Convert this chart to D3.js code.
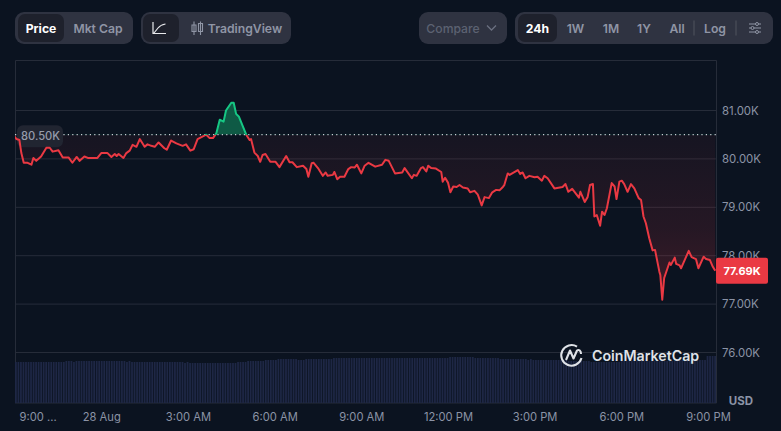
<!DOCTYPE html>
<html><head><meta charset="utf-8">
<script src="https://cdn.jsdelivr.net/npm/d3@7"></script>
<style>html,body{margin:0;padding:0;background:#0b1320;overflow:hidden}svg{display:block;font-family:Inter,"Noto Sans",sans-serif}</style>
</head><body><svg id="c" width="781" height="431"></svg>
<script>
const minutes=[0,4,10,14,19,27,35,39,45,55,66,73,79,91,100,112,120,129,135,145,152,172,180,193,201,208,212,216,226,232,239,245,253,260,270,276,284,291,299,311,316,325,336,349,356,365,372,380,398,405,412,419,426,434,439,450,455,460,466,481,488,491,498,505,510,515,521,531,542,550,564,571,577,586,599,606,610,617,621,630,640,646,650,661,664,670,676,685,693,699,706,711,720,727,735,749,763,770,777,790,805,810,825,829,835,844,848,855,859,865,875,886,889,894,900,905,911,918,924,931,941,946,955,962,970,976,985,992,1000,1007,1014,1017,1024,1028,1045,1050,1055,1061,1069,1080,1086,1095,1100,1107,1121,1138,1144,1150,1158,1172,1175,1184,1190,1195,1201,1204,1209,1216,1220,1225,1230,1240,1246,1250,1256,1261,1266,1273,1280,1287,1296,1301,1306,1311,1318,1325,1330,1339,1341,1345,1349,1360,1363,1371,1374,1381,1384,1400,1406,1415,1420,1431,1436,1444,1450,1455];
const prices=[80.46,80.41,80.39,80.12,79.92,79.92,79.88,80.02,79.96,80.05,80.23,80.23,80.15,80.18,80.03,80.03,79.92,80.04,79.96,80.05,80.02,80.02,80.12,80.12,80.04,80.10,80.06,80.10,80.02,80.12,80.17,80.29,80.25,80.41,80.25,80.30,80.27,80.25,80.34,80.22,80.19,80.38,80.32,80.27,80.30,80.17,80.20,80.41,80.50,80.43,80.43,80.53,80.81,80.77,81.00,81.16,81.16,80.93,80.87,80.50,80.39,80.41,80.13,80.06,79.94,80.08,80.10,79.94,79.94,79.83,80.06,79.93,79.93,79.83,79.86,79.79,79.63,79.91,79.92,79.81,79.65,79.72,79.65,79.67,79.73,79.58,79.63,79.63,79.79,79.83,79.82,79.88,79.70,79.86,79.92,79.84,79.88,79.98,79.96,79.70,79.72,79.81,79.60,79.67,79.65,79.81,79.83,79.74,79.86,79.81,79.80,79.73,79.53,79.61,79.51,79.31,79.43,79.42,79.46,79.41,79.39,79.31,79.34,79.26,79.04,79.21,79.19,79.31,79.36,79.35,79.42,79.46,79.70,79.67,79.77,79.69,79.72,79.60,79.65,79.62,79.63,79.55,79.65,79.60,79.39,79.42,79.48,79.32,79.38,79.20,79.32,79.11,79.21,79.46,79.48,78.81,78.84,78.62,78.91,78.84,78.98,79.50,79.43,79.17,79.53,79.55,79.48,79.32,79.48,79.39,79.19,79.15,78.81,78.67,78.36,78.11,78.12,77.67,77.60,77.09,77.54,77.86,77.81,77.96,77.83,77.80,77.74,78.10,77.97,77.93,77.74,77.98,77.93,77.91,77.77,77.69];
const volumes=[41,41,41,41,41,41,41,41,41,41,41,41,41,41,41,41,41,41,41,41,42,42,42,41,42,42,42,42,42,42,42,42,42,42,42,42,42,42,42,42,42,42,42,42,41,42,41,41,41,41,41,41,41,41,41,41,41,41,41,41,41,41,41,41,41,41,41,40,41,40,40,40,40,40,40,40,40,40,40,40,40,40,40,40,40,40,40,40,41,41,41,41,42,42,42,42,42,42,42,43,43,43,43,43,44,44,44,44,44,44,44,44,43,43,43,44,44,44,44,44,44,44,44,44,44,44,45,45,45,45,45,45,45,45,45,45,45,45,45,45,45,45,45,45,45,45,45,45,45,45,45,45,45,45,45,45,45,45,45,45,45,45,45,45,45,45,45,45,45,45,45,45,46,46,46,46,46,46,46,46,46,46,45,45,45,45,45,45,45,45,45,45,44,44,44,44,44,44,44,44,44,44,44,43,44,43,43,43,43,43,43,43,43,43,43,43,43,43,43,42,42,42,42,42,42,42,42,42,41,41,41,41,41,41,41,41,41,41,41,41,42,42,42,42,42,42,42,42,42,42,42,42,42,42,42,42,42,42,42,42,42,42,43,43,43,43,43,43,43,43,43,43,43,43,47,47,47,47];
const priceTicks=[81,80,79,78,77,76];
const timeTicks=[0,180,360,540,720,900,1080,1260,1440];
const timeLabels=["9:00 ...","28 Aug","3:00 AM","6:00 AM","9:00 AM","12:00 PM","3:00 PM","6:00 PM","9:00 PM"];
const basePrice=80.5, lastPrice=77.69;

const svg=d3.select("#c");
const L=15,R=716,T=60,B=403;
const x=d3.scaleLinear().domain([0,1440]).range([14.6,708]);
const y=d3.scaleLinear().domain([76,81]).range([352.5,110.5]);
const vy=d3.scaleLinear().domain([0,50]).range([B,B-50]);
const vx=d3.scaleBand().domain(d3.range(volumes.length)).range([L,R]).paddingInner(0.3);
const pts=minutes.map((m,i)=>[m,prices[i]]);

const defs=svg.append("defs");
const g=defs.append("linearGradient").attr("id","red").attr("gradientUnits","userSpaceOnUse")
 .attr("x1",0).attr("x2",0).attr("y1",y(basePrice)).attr("y2",y(77.2));
g.append("stop").attr("offset",0).attr("stop-color","#ea3943").attr("stop-opacity",.05);
g.append("stop").attr("offset",.6).attr("stop-color","#ea3943").attr("stop-opacity",.12);
g.append("stop").attr("offset",1).attr("stop-color","#ea3943").attr("stop-opacity",.22);
defs.append("clipPath").attr("id","above").append("rect").attr("x",L).attr("width",R-L).attr("y",T).attr("height",y(basePrice)-T);
defs.append("clipPath").attr("id","below").append("rect").attr("x",L).attr("width",R-L).attr("y",y(basePrice)).attr("height",B-y(basePrice));

// frame and grid
const gridC="#262c39";
svg.append("g").attr("class","grid").selectAll("line").data(priceTicks).join("line")
 .attr("x1",L).attr("x2",R).attr("y1",d=>y(d)).attr("y2",d=>y(d)).attr("stroke",gridC);
svg.append("path").attr("d",`M${L+.5},${B}V${T+.5}H${R+.5}V${B}H${L}`).attr("fill","none").attr("stroke",gridC);

// volume
svg.append("g").selectAll("rect").data(volumes).join("rect")
 .attr("x",(d,i)=>vx(i)).attr("width",vx.bandwidth()).attr("y",d=>vy(d)).attr("height",d=>B-vy(d)).attr("fill","#1e2745");

// areas
const area=d3.area().x(d=>x(d[0])).y1(d=>y(d[1])).y0(y(basePrice));
const line=d3.line().x(d=>x(d[0])).y(d=>y(d[1]));
svg.append("path").attr("d",area(pts)).attr("fill","url(#red)").attr("clip-path","url(#below)");
svg.append("path").attr("d",area(pts)).attr("fill","#0f5a45").attr("clip-path","url(#above)");
svg.append("line").attr("x1",L).attr("x2",R).attr("y1",y(basePrice)).attr("y2",y(basePrice))
 .attr("stroke","#c9ccd3").attr("stroke-dasharray","1.2 3.2").attr("stroke-width",1.2);

// baseline tag sits under the line
svg.append("rect").attr("x",17).attr("y",y(basePrice)-9.5).attr("width",46).attr("height",22).attr("rx",6).attr("fill","#212531");
svg.append("text").attr("x",40.5).attr("y",y(basePrice)+5.5).attr("text-anchor","middle").attr("fill","#969cab").attr("font-size",11.2).attr("font-weight",500).text(d3.format(".2f")(basePrice)+"K");

svg.append("path").attr("d",line(pts)).attr("fill","none").attr("stroke","#ea3943").attr("stroke-width",2).attr("stroke-linejoin","round").attr("clip-path","url(#below)");
svg.append("path").attr("d",line(pts)).attr("fill","none").attr("stroke","#16c784").attr("stroke-width",2).attr("stroke-linejoin","round").attr("clip-path","url(#above)");

// axes
const axisC="#8b93a6";
const ay=svg.append("g").attr("transform",`translate(${R},0)`)
 .call(d3.axisRight(y).tickValues(priceTicks).tickFormat(d=>d3.format(".2f")(d)+"K").tickSize(0).tickPadding(6));
ay.select(".domain").remove();
ay.selectAll("text").attr("fill",axisC).style("font-size","11.4px").style("font-family","Inter");
const ax=svg.append("g").attr("transform",`translate(0,${B})`)
 .call(d3.axisBottom(x).tickValues(timeTicks).tickFormat((d,i)=>timeLabels[i]).tickSize(0).tickPadding(10));
ax.select(".domain").remove();
ax.selectAll("text").attr("fill",axisC).style("font-size","11.2px").style("font-family","Inter");
ax.selectAll("text").filter((d,i)=>i===0).attr("text-anchor","start").attr("x",4.5);
svg.append("text").attr("x",741).attr("y",405).attr("text-anchor","middle").attr("fill",axisC).attr("font-size",11.5).attr("font-weight",700).text("USD");

// last price tag
svg.append("rect").attr("x",716).attr("y",y(lastPrice)-13).attr("width",52).attr("height",26).attr("rx",2).attr("fill","#ea3943");
svg.append("text").attr("x",742).attr("y",y(lastPrice)+4.5).attr("text-anchor","middle").attr("fill","#fff").attr("font-size",11).attr("font-weight",700).text(d3.format(".2f")(lastPrice)+"K");

// watermark
const wm=svg.append("g");
wm.append("path").attr("d","M581.5,358A10.3,10.3 0 1 1 577,346.6").attr("fill","none").attr("stroke","#dfe2e7").attr("stroke-width",2);
wm.append("path").attr("d","M566,360L570,350.5L573.5,358.5L577,350.5C579,349 581,351 581,354").attr("fill","none").attr("stroke","#dfe2e7").attr("stroke-width",2.1).attr("stroke-linejoin","round");
wm.append("text").attr("x",592).attr("y",360.5).attr("fill","#dfe2e7").attr("font-size",14.2).attr("font-weight",600).attr("font-family","Inter").text("CoinMarketCap");

// toolbar
const panel="#2f3341",active="#1e212c";
function box(px,py,w,h,r,f){return svg.append("rect").attr("x",px).attr("y",py).attr("width",w).attr("height",h).attr("rx",r).attr("fill",f);}
function label(t,cx,col,wt){return svg.append("text").attr("x",cx).attr("y",32.5).attr("text-anchor","middle").attr("fill",col).attr("font-size",12.2).attr("font-weight",wt||600).text(t);}
const dim="#8f95a5";
box(15,12,118,32,9,panel);box(18,14,46,28,7,active);label("Price",41,"#fff",700);label("Mkt Cap",98,dim);
box(141,12,150,32,9,panel);box(143,14,36,28,7,active);label("TradingView",245,dim);
svg.append("path").attr("d","M153,22V33.5H166M154,33L158,28C160,25.5 162,24.5 165.5,24").attr("fill","none").attr("stroke","#e8e9ec").attr("stroke-width",1.2);
svg.append("path").attr("d","M194,21.5V35M192,25h4v6.5h-4zM200.5,21.5V35M198.5,23.5h4v8h-4z").attr("fill","none").attr("stroke",dim).attr("stroke-width",1.1);
box(419,12,88,32,9,panel);label("Compare",453,"#5c6272",500);
svg.append("path").attr("d","M487,25.5L491.5,30L496,25.5").attr("fill","none").attr("stroke","#6b7080").attr("stroke-width",1.3);
box(515,12,258,32,9,panel);box(518,14,39,28,7,active);
label("24h",537.5,"#fff",700);label("1W",575.5,dim);label("1M",611,dim);label("1Y",644,dim);label("All",677,dim);label("Log",715,dim);
svg.append("path").attr("d","M694,20.5V35.5M736,20.5V35.5").attr("stroke","#50545f").attr("stroke-width",1);
svg.append("path").attr("d","M749,24h12M749,28h12M749,32h12").attr("stroke",dim).attr("stroke-width",1.1);
[[757,24],[752.5,28],[757,32]].forEach(p=>svg.append("circle").attr("cx",p[0]).attr("cy",p[1]).attr("r",1.5).attr("fill",panel).attr("stroke",dim).attr("stroke-width",1));
</script></body></html>
